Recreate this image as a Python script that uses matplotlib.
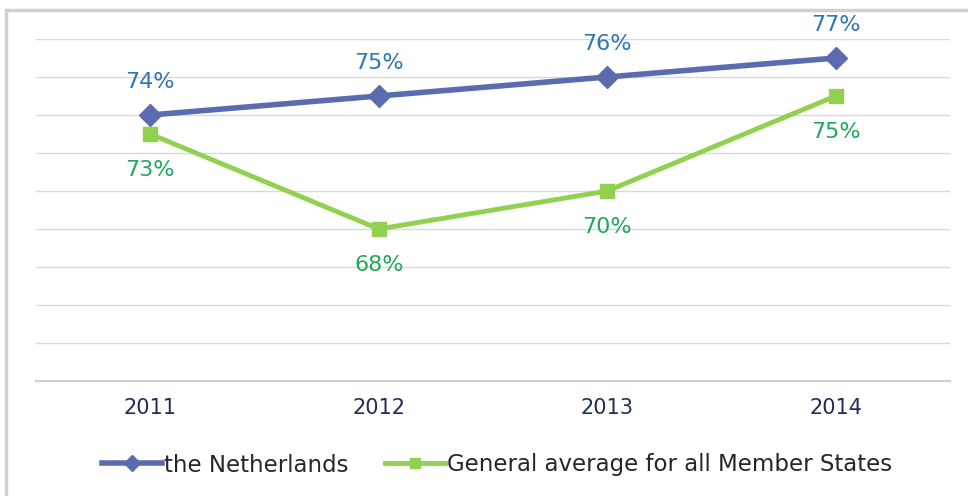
import matplotlib
matplotlib.use("Agg")
import matplotlib.pyplot as plt
from matplotlib.patches import Rectangle

years = ["2011", "2012", "2013", "2014"]
netherlands = [74, 75, 76, 77]
eu_average = [73, 68, 70, 75]

blue_line = "#5B6BB0"
green_line = "#92D050"
blue_text = "#2E75B6"
green_text = "#1FA85C"

plt.rcParams['font.family'] = ['DejaVu Sans']

fig = plt.figure(figsize=(9.68, 4.96), dpi=100)
fig.patch.set_facecolor("white")
# light frame around the chart area
fig.patches.append(Rectangle((6 / 968, -0.1), 1.2, 1 - 10 / 496 + 0.1,
                             transform=fig.transFigure, fill=False,
                             edgecolor="#D0D0D0", linewidth=2.5))

ax = fig.add_axes([36 / 968, 1 - 381 / 496, (950 - 36) / 968, (381 - 39) / 496])
x = range(len(years))

ax.plot(x, netherlands, color=blue_line, linewidth=4, marker="D", markersize=11,
        label="the Netherlands", zorder=3)
ax.plot(x, eu_average, color=green_line, linewidth=3.5, marker="s", markersize=10,
        label="General average for all Member States", zorder=3)

for i, v in enumerate(netherlands):
    ax.annotate(f"{v}%", (i, v), xytext=(0, 24), textcoords="offset points",
                ha="center", va="center", fontsize=16, color=blue_text,
                annotation_clip=False)
for i, v in enumerate(eu_average):
    ax.annotate(f"{v}%", (i, v), xytext=(0, -26), textcoords="offset points",
                ha="center", va="center", fontsize=16, color=green_text,
                annotation_clip=False)

ax.set_xlim(-0.5, 3.5)
ax.set_ylim(60, 78)
ax.set_yticks(range(62, 79, 2))
ax.set_yticklabels([])
ax.tick_params(axis="y", length=0)
ax.grid(axis="y", color="#D9D9D9", linewidth=1)
ax.set_axisbelow(True)

ax.set_xticks(list(x))
ax.set_xticklabels(years, fontsize=15, color="#1F2D5C")
ax.tick_params(axis="x", length=0, pad=12)

for side in ["top", "left", "right"]:
    ax.spines[side].set_visible(False)
ax.spines["bottom"].set_color("#D0D0D0")
ax.spines["bottom"].set_linewidth(1.5)

leg = fig.legend(loc="center", bbox_to_anchor=(497 / 968, 1 - 465 / 496), ncol=2,
                 frameon=False, fontsize=16.5, handlelength=2.6, handletextpad=0.1,
                 columnspacing=1.6, markerscale=0.7)
for t in leg.get_texts():
    t.set_color("#262626")

fig.savefig("out.png", dpi=100, facecolor="white")
